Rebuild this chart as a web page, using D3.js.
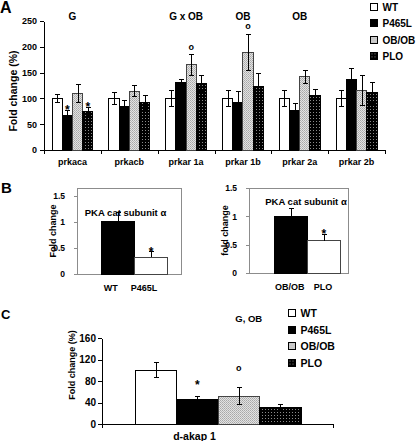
<!DOCTYPE html>
<html><head><meta charset="utf-8">
<script src="https://cdn.jsdelivr.net/npm/d3@7"></script>
<style>body{margin:0;background:#fff}svg{display:block}</style>
</head><body><svg id="c" width="416" height="441"></svg>
<script>
// ---------------- DATA ----------------
const series = ["WT","P465L","OB/OB","PLO"];
// Panel A
const genesA   = ["prkaca","prkacb","prkar 1a","prkar 1b","prkar 2a","prkar 2b"];
const wtA      = [100,100,100,100,100,100];
const wtErrA   = [8,11,15,16,16,16];
const p465A    = [66,85,130,92,76,137];
const p465ErrA = [10,10,6,22,14,21];
const obA      = [110,114,165,189,142,115];
const obErrA   = [17,11,20,35,13,29];
const ploA     = [74,92,129,124,106,111];
const ploErrA  = [8,13,16,25,12,20];
const annotA   = ["G","","G x OB","OB","OB",""];
const ticksA   = [0,50,100,150,200,250];
const sigA     = [["prkaca","P465L","*"],["prkaca","PLO","*"],["prkar 1a","OB/OB","o"],["prkar 1b","OB/OB","o"]];
// Panel B
const titleB  = "PKA cat subunit α";
const catB1   = ["WT","P465L"];
const valB1   = [1.0,0.32];
const errB1   = [0.18,0.11];
const catB2   = ["OB/OB","PLO"];
const valB2   = [1.0,0.57];
const errB2   = [0.13,0.11];
const ticksB  = [0,0.5,1,1.5];
// Panel C
const catC    = ["d-akap 1"];
const valC    = [100,46,52,31];
const errC    = [14,6,16,5];
const ticksC  = [0,40,80,120,160];
const annotC  = "G, OB";
const sigC    = [["P465L","*"],["OB/OB","o"]];

// ---------------- STYLE ----------------
const FONT = '"Liberation Sans", Arial, Helvetica, sans-serif';
const svg = d3.select("#c").attr("font-family",FONT).attr("font-weight","bold");
const defs = svg.append("defs");
const pg = defs.append("pattern").attr("id","pGray").attr("width",2).attr("height",2).attr("patternUnits","userSpaceOnUse");
pg.append("rect").attr("width",2).attr("height",2).attr("fill","#e2e2e2");
pg.append("rect").attr("width",1).attr("height",1).attr("fill","#a8a8a8");
pg.append("rect").attr("x",1).attr("y",1).attr("width",1).attr("height",1).attr("fill","#b8b8b8");
const pd = defs.append("pattern").attr("id","pDots").attr("width",3).attr("height",3).attr("patternUnits","userSpaceOnUse");
pd.append("rect").attr("width",3).attr("height",3).attr("fill","#000");
pd.append("rect").attr("x",1).attr("y",1).attr("width",1).attr("height",1).attr("fill","#8a8a8a");

const fillStd   = {"WT":"#fff","P465L":"#000","OB/OB":"url(#pGray)","PLO":"url(#pDots)"};
const strokeStd = {"WT":"#000","P465L":"#000","OB/OB":"#444","PLO":"#000"};

function axStyle(g,size){
  g.attr("font-family",FONT).attr("font-size",size).attr("font-weight","bold");
  g.selectAll("text").attr("fill","#000");
  g.selectAll("line,path").attr("stroke","#000").attr("shape-rendering","crispEdges");
}

function drawBars(rows, xo, xi, y, fill, stroke, fullErr, cap){
  const g = svg.append("g");
  g.selectAll("rect").data(rows).join("rect")
    .attr("x",d=>xo(d.cat)+xi(d.s)).attr("y",d=>y(d.v))
    .attr("width",xi.bandwidth()).attr("height",d=>y(0)-y(d.v))
    .attr("fill",d=>fill(d)).attr("stroke",d=>stroke(d)).attr("stroke-width",1)
    .attr("shape-rendering","crispEdges");
  const eb = g.selectAll("g.eb").data(rows).join("g").attr("class","eb")
    .attr("stroke","#000").attr("stroke-width",1).attr("shape-rendering","crispEdges");
  eb.each(function(d){
    const cx = Math.round(xo(d.cat)+xi(d.s)+xi.bandwidth()/2)+0.5;
    const t = y(d.v+d.e), b = fullErr ? y(d.v-d.e) : y(d.v);
    const s = d3.select(this);
    s.append("line").attr("x1",cx).attr("x2",cx).attr("y1",t).attr("y2",b);
    s.append("line").attr("x1",cx-cap).attr("x2",cx+cap).attr("y1",t).attr("y2",t);
    if(fullErr) s.append("line").attr("x1",cx-cap).attr("x2",cx+cap).attr("y1",b).attr("y2",b);
  });
  return g;
}

function legend(x0,y0,step,box,fs){
  const g = svg.append("g");
  const it = g.selectAll("g").data(series).join("g").attr("transform",(d,i)=>`translate(${x0},${y0+i*step})`);
  it.append("rect").attr("width",box).attr("height",box).attr("fill",d=>fillStd[d])
    .attr("stroke","#000").attr("stroke-width",1).attr("shape-rendering","crispEdges");
  it.append("text").attr("x",box+5).attr("y",box+0.5).attr("font-size",fs).text(d=>d);
}

// ---------------- PANEL A ----------------
svg.append("text").attr("x",0).attr("y",13).attr("font-size",16).text("A");
const xA  = d3.scaleBand().domain(genesA).range([44,385]);
const xsA = d3.scaleBand().domain(series).range([8,xA.bandwidth()-8]);
const yA  = d3.scaleLinear().domain([0,250]).range([150,21]);
const valsA=[wtA,p465A,obA,ploA], errsA=[wtErrA,p465ErrA,obErrA,ploErrA];
const rowsA = genesA.flatMap((g,i)=>series.map((s,j)=>({cat:g,s,v:valsA[j][i],e:errsA[j][i]})));

svg.append("g").attr("transform","translate(44,0)")
  .call(d3.axisLeft(yA).tickValues(ticksA).tickSize(4).tickSizeOuter(0).tickPadding(3))
  .call(axStyle,9);
const gxA = svg.append("g").attr("transform",`translate(0,${yA(0)})`)
  .call(d3.axisBottom(xA).tickSize(0).tickPadding(9)).call(axStyle,9);
gxA.selectAll(".bd").data([xA.range()[0],...genesA.map(g=>xA(g)+xA.step())]).join("line").attr("class","bd")
  .attr("x1",d=>Math.round(d)+0.5).attr("x2",d=>Math.round(d)+0.5).attr("y1",0).attr("y2",4)
  .attr("stroke","#000").attr("shape-rendering","crispEdges");

drawBars(rowsA, d=>xA(d), xsA, yA, d=>fillStd[d.s], d=>strokeStd[d.s], true, 2.5);

svg.append("g").selectAll("text").data(genesA.map((g,i)=>({g,t:annotA[i]})).filter(d=>d.t)).join("text")
  .attr("x",d=>xA(d.g)+xA.bandwidth()/2).attr("y",20).attr("text-anchor","middle").attr("font-size",10).text(d=>d.t);

svg.append("g").selectAll("text").data(sigA).join("text")
  .attr("x",d=>xA(d[0])+xsA(d[1])+xsA.bandwidth()/2)
  .attr("y",d=>{const i=genesA.indexOf(d[0]), j=series.indexOf(d[1]); const top=yA(valsA[j][i]+errsA[j][i]); return d[2]==="*"?top+3:top-5;})
  .attr("text-anchor","middle").attr("font-size",d=>d[2]==="*"?12:9).text(d=>d[2]);

svg.append("text").attr("transform","translate(17,91) rotate(-90)").attr("text-anchor","middle")
  .attr("font-size",10.5).text("Fold change (%)");
legend(370.5,3.5,16.3,7,10);

// ---------------- PANEL B ----------------
svg.append("text").attr("x",1).attr("y",193).attr("font-size",15).text("B");
function panelB(cats,vals,errs,frame,barRange,ydom,ylab,ylabX,titleX,titleY,labDx){
  const y = d3.scaleLinear().domain(ydom).range([frame.b,frame.t]);
  const xi = d3.scaleBand().domain(cats).range(barRange);
  svg.append("rect").attr("x",frame.l+0.5).attr("y",frame.t+0.5).attr("width",frame.r-frame.l).attr("height",frame.b-frame.t)
    .attr("fill","none").attr("stroke","#8c8c8c").attr("shape-rendering","crispEdges");
  const ga = svg.append("g").attr("transform",`translate(${frame.l},0)`)
    .call(d3.axisLeft(y).tickValues(ticksB).tickFormat(d=>String(d)).tickSize(3).tickSizeOuter(0).tickPadding(9)).call(axStyle,8.5);
  ga.select(".domain").remove();
  ga.selectAll(".tick line").attr("stroke","#8c8c8c");
  const rows = cats.map((c,i)=>({cat:"",s:c,v:vals[i],e:errs[i]}));
  drawBars(rows, ()=>0, xi, y, (d)=>cats.indexOf(d.s)===0?"#000":"#fff", (d)=>cats.indexOf(d.s)===0?"#000":"#444", false, 2.5);
  const gx = svg.append("g").attr("transform",`translate(0,${frame.b})`)
    .call(d3.axisBottom(xi).tickSize(0).tickPadding(11)).call(axStyle,9);
  gx.select(".domain").remove();
  gx.selectAll("text").attr("dx",labDx);
  svg.append("text").attr("x",xi(cats[1])+xi.bandwidth()/2).attr("y",y(vals[1]+errs[1])+4)
    .attr("text-anchor","middle").attr("font-size",12).text("*");
  svg.append("text").attr("x",titleX).attr("y",titleY).attr("text-anchor","middle").attr("font-size",9.5).text(titleB);
  svg.append("text").attr("transform",`translate(${ylabX},${(frame.t+frame.b)/2}) rotate(-90)`).attr("text-anchor","middle")
    .attr("font-size",9).text(ylab);
}
panelB(catB1,valB1,errB1,{l:77,r:180.5,t:188,b:274},[101,167.7],[0,1.65],"Fold change",56,125.5,216,-7);
panelB(catB2,valB2,errB2,{l:249,r:348,t:188,b:273},[274,340.5],[0,1.5],"fold change",228,306,205,-1);

// ---------------- PANEL C ----------------
svg.append("text").attr("x",1).attr("y",319).attr("font-size",13).text("C");
const xC  = d3.scaleBand().domain(catC).range([102,333]);
const xsC = d3.scaleBand().domain(series).range([33,xC.bandwidth()-32]);
const yC  = d3.scaleLinear().domain([0,160]).range([424,338]);
const rowsC = series.map((s,j)=>({cat:catC[0],s,v:valC[j],e:errC[j]}));
svg.append("g").attr("transform",`translate(${xC.range()[0]},0)`)
  .call(d3.axisLeft(yC).tickValues(ticksC).tickSize(4).tickSizeOuter(0).tickPadding(2)).call(axStyle,10);
const gxC = svg.append("g").attr("transform",`translate(0,${yC(0)})`)
  .call(d3.axisBottom(xC).tickSize(0).tickPadding(9)).call(axStyle,10.5);
gxC.selectAll(".tick text").attr("dx",-23);
gxC.selectAll(".bd").data(xC.range()).join("line").attr("class","bd")
  .attr("x1",d=>Math.round(d)+0.5).attr("x2",d=>Math.round(d)+0.5).attr("y1",0).attr("y2",4)
  .attr("stroke","#000").attr("shape-rendering","crispEdges");
drawBars(rowsC, d=>xC(d), xsC, yC, d=>fillStd[d.s], d=>strokeStd[d.s], true, 2.5);
svg.append("g").selectAll("text").data(sigC).join("text")
  .attr("x",d=>xC(catC[0])+xsC(d[0])+xsC.bandwidth()/2)
  .attr("y",d=>{const j=series.indexOf(d[0]); const top=yC(valC[j]+errC[j]); return d[1]==="*"?top-7:top-16;})
  .attr("text-anchor","middle").attr("font-size",d=>d[1]==="*"?12:9).text(d=>d[1]);
svg.append("text").attr("x",xC(catC[0])+xsC("OB/OB")+xsC.bandwidth()/2+10).attr("y",322)
  .attr("text-anchor","middle").attr("font-size",9.5).text(annotC);
svg.append("text").attr("transform","translate(75,365) rotate(-90)").attr("text-anchor","middle")
  .attr("font-size",9).text("Fold change (%)");
legend(288.5,309.5,16.7,7,10.5);
</script></body></html>
